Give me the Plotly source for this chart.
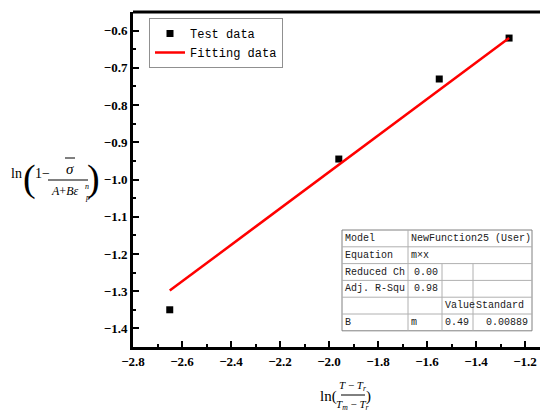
import plotly.graph_objects as go

# Measured points and the fitted model y = m * x
x_test = [-2.65, -1.96, -1.55, -1.265]
y_test = [-1.35, -0.945, -0.73, -0.62]
m_value = 0.49
m_std = 0.00889
reduced_chi = "0.00"
adj_r2 = "0.98"

x_ticks = [-2.8, -2.6, -2.4, -2.2, -2.0, -1.8, -1.6, -1.4, -1.2]
y_ticks = [-1.4, -1.3, -1.2, -1.1, -1.0, -0.9, -0.8, -0.7, -0.6]

fit_x = [min(x_test), max(x_test)]
fit_y = [m_value * v for v in fit_x]

W, H = 540, 412
L, R, T, B = 133, 0, 12, 65
PW, PH = W - L - R, H - T - B


def px(x):
    return (x - L) / PW


def py(y):
    return (H - B - y) / PH


SERIF = "Liberation Serif"
MONO = "Liberation Mono"


def tick_labels(vals):
    return [
        '<span style="font-family:Liberation Serif;font-weight:bold">'
        + f"{v:.1f}".replace("-", "−") + "</span>"
        for v in vals
    ]


fig = go.Figure()
fig.add_trace(go.Scatter(
    x=x_test, y=y_test, mode="markers", name="Test data",
    marker=dict(symbol="square", size=7, color="black"),
))
fig.add_trace(go.Scatter(
    x=fit_x, y=fit_y, mode="lines", name="Fitting data",
    line=dict(color="#ff0000", width=2.5),
))

minor_x = dict(ticks="inside", ticklen=3, tickwidth=2, tickcolor="black", dtick=0.1, tick0=-2.8)
minor_y = dict(ticks="inside", ticklen=3, tickwidth=2, tickcolor="black", dtick=0.05, tick0=-1.45)
tick_font = dict(family=SERIF, size=13, color="black", weight="bold")

fig.update_layout(
    xaxis=dict(
        range=[-2.8, -2.8 + PW / 245.0],
        tickmode="array", tickvals=x_ticks, ticktext=tick_labels(x_ticks),
        tickfont=tick_font,
        showline=True, linecolor="black", linewidth=3,
        ticks="inside", ticklen=6, tickwidth=2, tickcolor="black",
        showgrid=False, zeroline=False, minor=minor_x,
    ),
    yaxis=dict(
        range=[-1.45, -0.55],
        tickmode="array", tickvals=y_ticks, ticktext=tick_labels(y_ticks),
        tickfont=tick_font,
        showline=True, linecolor="black", linewidth=3,
        ticks="inside", ticklen=6, tickwidth=2, tickcolor="black",
        showgrid=False, zeroline=False, minor=minor_y,
    ),
)

shapes = []
annotations = []

# top frame line
shapes.append(dict(type="line", xref="paper", yref="paper", x0=0, x1=1, y0=1, y1=1,
                   line=dict(color="black", width=3)))


def text(x, y, s, size, family=SERIF, xanchor="center", color="black"):
    annotations.append(dict(x=px(x), y=py(y), xref="paper", yref="paper", text=s,
                            showarrow=False, xanchor=xanchor, yanchor="middle",
                            font=dict(family=family, size=size, color=color)))


def hline(x0, x1, y, color="black", width=1):
    shapes.append(dict(type="line", xref="paper", yref="paper", x0=px(x0), x1=px(x1),
                       y0=py(y), y1=py(y), line=dict(color=color, width=width)))


def vline(x, y0, y1, color="black", width=1):
    shapes.append(dict(type="line", xref="paper", yref="paper", x0=px(x), x1=px(x),
                       y0=py(y0), y1=py(y1), line=dict(color=color, width=width)))


# y-axis title: ln(1 - sigma_bar / (A + B eps_p^n))
text(17, 173, "ln", 14)
text(29.5, 178, "(", 38)
text(42, 173, "1−", 14)
text(70, 169, "<i>σ</i>", 15)
hline(65, 75, 158)
hline(48, 88, 180)
text(64, 191, "<i>A</i>+<i>Bε</i>", 12)
text(87, 186, "<i>n</i>", 8)
text(87, 197, "<i>p</i>", 8)
text(93, 178, ")", 38)

# x-axis title: ln((T - Tr) / (Tm - Tr))
text(328, 396, "ln(", 15)
text(353, 386, "<i>T</i> − <i>T</i><sub><i>r</i></sub>", 11)
hline(341, 365, 395)
text(353, 405, "<i>T</i><sub><i>m</i></sub> − <i>T</i><sub><i>r</i></sub>", 11)
text(368, 396, ")", 15)

# fit parameter table
cols = [342, 408, 442, 473, 532]
row_top = 230
row_h = 16.8
rows = [row_top + i * row_h for i in range(7)]
cell_color = "#b0b0b0"
shapes.append(dict(type="rect", xref="paper", yref="paper", x0=px(cols[0]), x1=px(cols[-1]),
                   y0=py(rows[0]), y1=py(rows[-1]), line=dict(color="#808080", width=1),
                   fillcolor="white"))
for r in rows[1:-1]:
    hline(cols[0], cols[-1], r, cell_color)
vline(cols[1], rows[0], rows[-1], cell_color)
vline(cols[2], rows[2], rows[-1], cell_color)
vline(cols[3], rows[2], rows[-1], cell_color)

table_cells = [
    ["Model", "NewFunction25 (User)", None, None],
    ["Equation", "m×x", None, None],
    ["Reduced Ch", reduced_chi, "", ""],
    ["Adj. R-Squ", adj_r2, "", ""],
    ["", "", "Value", "Standard"],
    ["B", "m", f"{m_value:.2f}", f"{m_std:.5f}"],
]
right_aligned = {(2, 1), (3, 1), (5, 2), (5, 3)}
for i, row in enumerate(table_cells):
    yc = rows[i] + row_h / 2
    for j, val in enumerate(row):
        if not val:
            continue
        if (i, j) in right_aligned:
            text(cols[j + 1] - 2, yc, val, 10, family=MONO, xanchor="right", color="#202020")
        else:
            text(cols[j] + 1, yc, val, 10, family=MONO, xanchor="left", color="#202020")

fig.update_layout(
    width=W, height=H,
    margin=dict(l=L, r=R, t=T, b=B),
    paper_bgcolor="white", plot_bgcolor="white",
    font=dict(family=SERIF, color="black"),
    showlegend=True,
    legend=dict(x=px(149), y=py(18), xanchor="left", yanchor="top",
                bordercolor="#909090", borderwidth=1, bgcolor="white",
                font=dict(family=MONO, size=12, color="black"),
                tracegroupgap=0, itemwidth=30),
    shapes=shapes, annotations=annotations,
)

fig.write_html("out.html")
